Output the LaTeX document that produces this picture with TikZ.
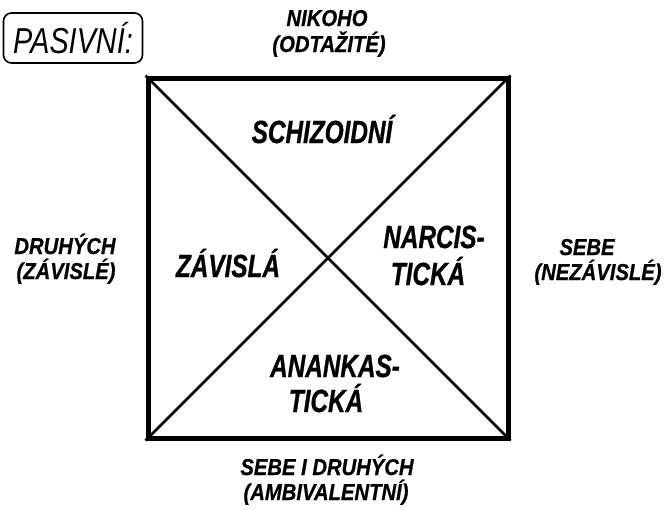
\documentclass[tikz,border=0pt]{standalone}
\usepackage{fontspec}
\newfontfamily\outerfont[FakeStretch=0.88, BoldItalicFeatures={FakeBold=0.7}]{Liberation Sans}
\newfontfamily\innerfont[FakeStretch=0.76, BoldItalicFeatures={FakeBold=0.8}]{Liberation Sans}
\newfontfamily\pasfont[FakeStretch=0.8]{Liberation Sans}
\begin{document}
\begin{tikzpicture}[x=1pt,y=-1pt,
  outerlbl/.style={font=\outerfont\bfseries\itshape\fontsize{23}{25}\selectfont, anchor=base, inner sep=0pt},
  innerlbl/.style={font=\innerfont\bfseries\itshape\fontsize{32}{38}\selectfont, anchor=base, inner sep=0pt},
  quad/.style={draw, line width=5pt, minimum width=360pt, minimum height=360pt, inner sep=0pt},
  diag/.style={line width=2.6pt}]
\useasboundingbox (0,0) rectangle (666,509);
\node[quad] (sq) at (328,258) {};
\draw[diag] (sq.north west) -- (sq.south east);
\draw[diag] (sq.north east) -- (sq.south west);
\node[draw, line width=1.6pt, rounded corners=8pt, minimum width=139pt, minimum height=50pt, inner sep=0pt,
  font=\pasfont\itshape\fontsize{36}{38}\selectfont] (pas) at (73,38) {PASIVNÍ:};
\node[outerlbl] (top1) at (327,26) {NIKOHO};
\node[outerlbl] (top2) at (329,52) {(ODTAŽITÉ)};
\node[outerlbl] (left1) at (65,254) {DRUHÝCH};
\node[outerlbl] (left2) at (66,279) {(ZÁVISLÉ)};
\node[outerlbl] (right1) at (587,255) {SEBE};
\node[outerlbl] (right2) at (598,280) {(NEZÁVISLÉ)};
\node[outerlbl] (bot1) at (327,475) {SEBE I DRUHÝCH};
\node[outerlbl] (bot2) at (326,500) {(AMBIVALENTNÍ)};
\node[innerlbl] (schiz) at (322,143) {SCHIZOIDNÍ};
\node[innerlbl] (zav) at (228,277) {ZÁVISLÁ};
\node[innerlbl] (narc1) at (434,248) {NARCIS-};
\node[innerlbl] (narc2) at (428,285) {TICKÁ};
\node[innerlbl] (anan1) at (335,377) {ANANKAS-};
\node[innerlbl] (anan2) at (326,412) {TICKÁ};
\end{tikzpicture}
\end{document}
